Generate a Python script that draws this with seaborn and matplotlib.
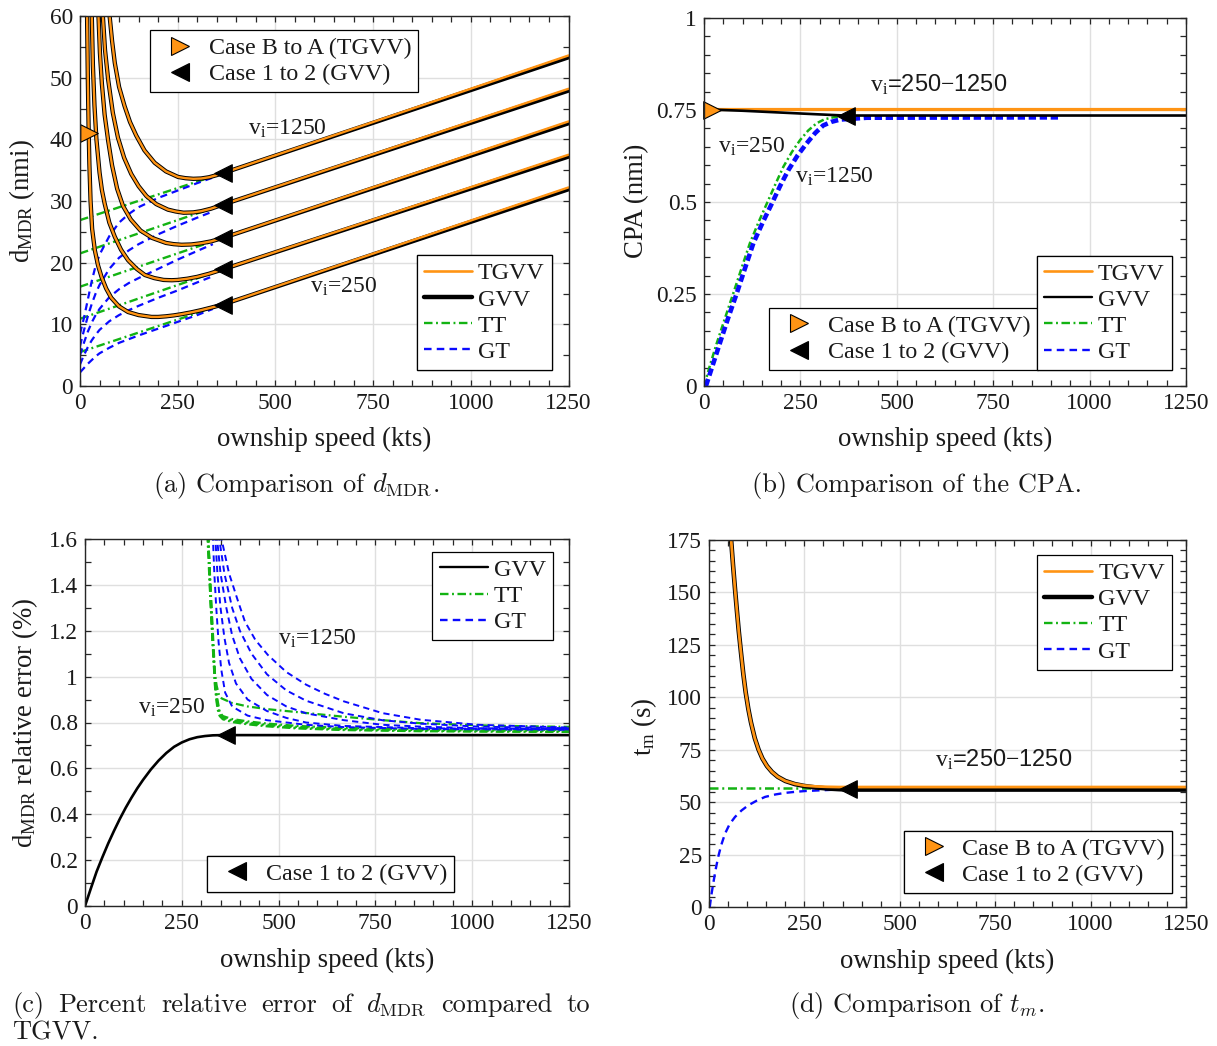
import matplotlib
matplotlib.use("Agg")
import matplotlib.pyplot as plt
import seaborn as sns
from matplotlib.lines import Line2D
from matplotlib.ticker import FixedLocator, MultipleLocator

# ---------------------------------------------------------------- data
x_ticks = [0, 250, 500, 750, 1000, 1250]
x_tick_labels = ["0", "250", "500", "750", "1000", "1250"]
a_y_ticks = [0, 10, 20, 30, 40, 50, 60]
a_y_tick_labels = ["0", "10", "20", "30", "40", "50", "60"]
b_y_ticks = [0, 0.25, 0.5, 0.75, 1.0]
b_y_tick_labels = ["0", "0.25", "0.5", "0.75", "1"]
c_y_ticks = [0, 0.2, 0.4, 0.6, 0.8, 1.0, 1.2, 1.4, 1.6]
c_y_tick_labels = ["0", "0.2", "0.4", "0.6", "0.8", "1", "1.2", "1.4", "1.6"]
d_y_ticks = [0, 25, 50, 75, 100, 125, 150, 175]
d_y_tick_labels = ["0", "25", "50", "75", "100", "125", "150", "175"]

# (a) d_MDR, one curve per intruder speed v_i = 250 ... 1250
a_x_250 = [18, 20, 22, 24, 27, 31, 38, 46, 55, 67, 80, 100, 123, 150, 183, 200, 220, 240, 260, 285, 310, 335, 365, 1250]
a_gvv_250 = [60.5, 50.0, 42.0, 36.0, 30.0, 25.5, 22.0, 19.6, 17.7, 15.8, 14.3, 12.9, 12.0, 11.5, 11.2, 11.2, 11.3, 11.45, 11.65, 11.95, 12.3, 12.7, 13.2, 31.9]
a_x_500 = [30, 33, 37, 42, 50, 56, 63, 75, 89, 105, 123, 145, 166, 190, 214, 235, 250, 275, 300, 330, 365, 1250]
a_gvv_500 = [60.5, 52.0, 45.5, 40.0, 34.6, 31.8, 29.6, 26.5, 24.2, 22.1, 20.4, 19.0, 18.0, 17.5, 17.2, 17.15, 17.2, 17.4, 17.7, 18.2, 18.9, 37.2]
a_x_750 = [47, 51, 56, 63, 72, 82, 95, 110, 130, 155, 185, 220, 240, 260, 285, 310, 335, 365, 1250]
a_gvv_750 = [60.5, 54.0, 49.0, 44.0, 39.8, 35.8, 32.0, 29.2, 27.0, 25.2, 24.0, 23.2, 23.0, 22.9, 22.95, 23.15, 23.45, 24.0, 42.6]
a_x_1000 = [58, 64, 72, 84, 97, 113, 131, 150, 170, 195, 225, 245, 265, 290, 310, 335, 365, 1250]
a_gvv_1000 = [60.5, 54.5, 49.7, 44.3, 40.3, 37.0, 34.4, 32.4, 30.8, 29.5, 28.6, 28.3, 28.1, 28.15, 28.35, 28.75, 29.4, 47.9]
a_x_1250 = [75, 82, 89, 100, 114, 128, 144, 165, 191, 220, 251, 270, 290, 310, 330, 350, 365, 1250]
a_gvv_1250 = [60.5, 56.0, 52.4, 48.5, 45.4, 42.8, 40.6, 38.2, 36.2, 34.8, 33.9, 33.7, 33.6, 33.65, 33.85, 34.2, 34.5, 53.3]
a_tgvv_end = [32.2, 37.5, 42.9, 48.2, 53.6]          # TGVV value at 1250 kts
a_tt_x = [0, 365]
a_tt_start = [5.5, 10.9, 16.1, 21.5, 26.9]
a_tt_end = [13.2, 18.9, 24.0, 29.4, 34.5]
a_gt_x = [0, 10, 20, 30, 40, 50, 75, 100, 125, 150, 200, 250, 300, 340]
a_gt_250 = [2.2, 2.9, 3.6, 4.2, 4.8, 5.3, 6.2, 7.0, 7.6, 8.2, 9.3, 10.4, 11.5, 12.5]
a_gt_500 = [3.5, 5.0, 6.3, 7.4, 8.3, 9.1, 10.5, 11.5, 12.3, 13.0, 14.3, 15.5, 16.8, 17.8]
a_gt_750 = [5.0, 7.0, 8.8, 10.3, 11.5, 12.5, 14.4, 15.7, 16.7, 17.5, 19.0, 20.5, 21.9, 23.0]
a_gt_1000 = [6.5, 9.0, 11.3, 13.3, 15.0, 16.4, 19.0, 20.8, 22.0, 23.0, 24.6, 26.0, 27.3, 28.3]
a_gt_1250 = [8.5, 11.0, 14.0, 17.0, 19.5, 21.3, 24.3, 26.5, 27.9, 29.0, 30.5, 31.7, 32.9, 33.8]
a_case1_x = [365, 365, 365, 365, 365]
a_case1_y = [13.2, 18.9, 24.0, 29.4, 34.5]
a_caseB_x = [22]
a_caseB_y = [41.0]

# (b) CPA
b_tgvv_x = [20, 1250]
b_tgvv_y = [0.752, 0.752]
b_gvv_x = [20, 100, 200, 300, 365, 1250]
b_gvv_y = [0.751, 0.748, 0.743, 0.738, 0.735, 0.735]
b_tt_x = [0, 16, 33, 55, 76, 98, 119, 141, 163, 185, 206, 228, 249, 270, 292, 313, 335, 380]
b_tt_y = [0.0, 0.058, 0.116, 0.186, 0.252, 0.322, 0.388, 0.444, 0.496, 0.548, 0.596, 0.636, 0.668, 0.694, 0.714, 0.725, 0.730, 0.733]
b_gt_x = [5, 23, 41, 63, 85, 107, 128, 152, 176, 198, 219, 243, 266, 288, 309, 331, 353, 422, 920]
b_gt_y = [0.0, 0.058, 0.116, 0.186, 0.252, 0.322, 0.388, 0.444, 0.496, 0.545, 0.587, 0.627, 0.659, 0.687, 0.708, 0.718, 0.724, 0.729, 0.730]
b_case1_x = [368]
b_case1_y = [0.735]
b_caseB_x = [20]
b_caseB_y = [0.751]

# (c) relative error of d_MDR (%)
c_gvv_x = [0, 15, 30, 45, 60, 75, 90, 105, 120, 135, 150, 170, 190, 210, 230, 250, 270, 290, 310, 330, 353, 1250]
c_gvv_y = [0.0, 0.076, 0.150, 0.213, 0.273, 0.328, 0.380, 0.428, 0.472, 0.513, 0.550, 0.595, 0.634, 0.667, 0.694, 0.713, 0.727, 0.736, 0.741, 0.744, 0.745, 0.745]
c_tt_x_1 = [316, 322, 328, 334, 340, 346, 353, 380, 420, 472, 550, 669, 770, 867, 1050, 1250]
c_tt_y_1 = [1.62, 1.40, 1.20, 1.03, 0.96, 0.92, 0.905, 0.885, 0.87, 0.858, 0.845, 0.825, 0.81, 0.797, 0.786, 0.781]
c_tt_x_2 = [318, 324, 330, 336, 342, 348, 356, 380, 420, 472, 550, 669, 867, 1050, 1250]
c_tt_y_2 = [1.62, 1.40, 1.20, 1.00, 0.90, 0.845, 0.828, 0.815, 0.805, 0.795, 0.785, 0.776, 0.771, 0.769, 0.768]
c_tt_y_3 = [1.62, 1.38, 1.17, 0.98, 0.88, 0.838, 0.822, 0.810, 0.800, 0.790, 0.781, 0.772, 0.767, 0.765, 0.764]
c_tt_y_4 = [1.62, 1.36, 1.15, 0.96, 0.87, 0.832, 0.818, 0.806, 0.796, 0.786, 0.777, 0.769, 0.764, 0.762, 0.761]
c_tt_y_5 = [1.62, 1.34, 1.13, 0.95, 0.86, 0.828, 0.814, 0.802, 0.792, 0.783, 0.774, 0.767, 0.762, 0.760, 0.759]
c_gt_x_250 = [330, 334, 339, 345, 352, 362, 380, 420, 470, 571, 669, 868, 1250]
c_gt_y_250 = [1.62, 1.45, 1.30, 1.15, 1.03, 0.93, 0.87, 0.83, 0.81, 0.79, 0.78, 0.772, 0.768]
c_gt_x_500 = [336, 342, 350, 360, 372, 390, 420, 470, 520, 571, 669, 868, 1250]
c_gt_y_500 = [1.62, 1.45, 1.30, 1.17, 1.06, 0.97, 0.90, 0.85, 0.82, 0.80, 0.785, 0.775, 0.770]
c_gt_x_750 = [340, 350, 365, 380, 400, 430, 470, 520, 571, 669, 768, 867, 1015, 1250]
c_gt_y_750 = [1.62, 1.45, 1.30, 1.18, 1.08, 0.99, 0.92, 0.87, 0.84, 0.81, 0.79, 0.782, 0.775, 0.772]
c_gt_x_1000 = [345, 360, 380, 400, 430, 470, 520, 571, 669, 768, 867, 1015, 1250]
c_gt_y_1000 = [1.62, 1.45, 1.30, 1.20, 1.10, 1.01, 0.94, 0.895, 0.84, 0.81, 0.795, 0.782, 0.775]
c_gt_x_1250 = [350, 372, 395, 413, 440, 472, 520, 571, 620, 669, 768, 867, 1015, 1250]
c_gt_y_1250 = [1.62, 1.45, 1.33, 1.24, 1.16, 1.095, 1.02, 0.965, 0.925, 0.892, 0.841, 0.812, 0.790, 0.778]
c_case1_x = [365]
c_case1_y = [0.745]

# (d) t_m (s)
d_x = [56, 58, 63, 68, 73, 78, 84, 90, 96, 103, 110, 120, 130, 140, 152, 165, 180, 200, 225, 250, 280, 310, 340, 365, 1250]
d_tgvv_y = [180.0, 175.0, 163.0, 152.0, 141.5, 131.5, 121.0, 111.0, 102.5, 94.5, 88.0, 80.5, 75.0, 70.8, 67.2, 64.4, 62.1, 60.1, 58.7, 57.9, 57.5, 57.3, 57.2, 57.2, 57.2]
d_gvv_y = [180.0, 175.0, 163.0, 152.0, 141.5, 131.5, 121.0, 111.0, 102.5, 94.5, 88.0, 80.5, 75.0, 70.8, 67.2, 64.4, 62.1, 60.1, 58.6, 57.7, 57.0, 56.5, 56.2, 56.0, 56.0]
d_tt_x = [0, 340]
d_tt_y = [56.9, 56.9]
d_gt_x = [2, 6, 11, 17, 24, 32, 42, 54, 68, 85, 103, 125, 147, 175, 199, 225, 252, 300, 339, 1250]
d_gt_y = [0.0, 5.5, 11.1, 17.5, 23.8, 29.5, 35.0, 39.5, 42.9, 46.0, 48.5, 50.7, 52.5, 53.7, 54.4, 54.9, 55.3, 55.7, 56.0, 56.0]
d_case1_x = [365]
d_case1_y = [56.2]

# ---------------------------------------------------------------- style
sns.set_theme(style="ticks")
plt.rcParams.update({
    "font.family": ["Liberation Serif", "DejaVu Serif"],
    "mathtext.fontset": "custom",
    "mathtext.rm": "Liberation Serif",
    "mathtext.it": "Liberation Serif:italic",
    "mathtext.bf": "Liberation Serif:bold",
    "axes.edgecolor": "#262626",
    "axes.linewidth": 1.0,
    "xtick.color": "#262626",
    "ytick.color": "#262626",
    "xtick.labelcolor": "#1a1a1a",
    "ytick.labelcolor": "#1a1a1a",
    "axes.labelcolor": "#1a1a1a",
    "text.color": "#1a1a1a",
})

ORANGE = "#FF9414"
GREEN = "#13B313"
BLUE = "#0A0AFF"
BLACK = "#000000"

TICK_FS = 16.8
LABEL_FS = 19.3
LEG_FS = 17.3
ANN_FS = 17
CAP_FS = 19

fig = plt.figure(figsize=(12.17, 10.46), dpi=100)
W, H = 1217.0, 1046.0


def add_ax(x0, x1, y0, y1):
    return fig.add_axes([x0 / W, 1 - y1 / H, (x1 - x0) / W, (y1 - y0) / H])


ax_a = add_ax(80, 568.5, 16, 386)
ax_b = add_ax(704, 1186, 18, 386)
ax_c = add_ax(85, 569, 539, 906)
ax_d = add_ax(709, 1186, 540, 907)


def style(ax, ymax, yt, ytl, yminor, ylabel, ylab_x, ylab_y, xlab_y):
    ax.set_xlim(0, 1250)
    ax.set_ylim(0, ymax)
    ax.xaxis.set_major_locator(FixedLocator(x_ticks))
    ax.set_xticklabels(x_tick_labels)
    ax.yaxis.set_major_locator(FixedLocator(yt))
    ax.set_yticklabels(ytl)
    ax.xaxis.set_minor_locator(MultipleLocator(50))
    ax.yaxis.set_minor_locator(MultipleLocator(yminor))
    ax.tick_params(which="both", direction="in", top=True, right=True,
                   length=4.5, width=0.9, labelsize=TICK_FS, pad=5)
    ax.grid(True, which="major", color="#DFDFDF", linewidth=1.0)
    ax.set_axisbelow(True)
    for s in ax.spines.values():
        s.set_visible(True)
        s.set_zorder(8)
    ax.set_xlabel("ownship speed (kts)", fontsize=LABEL_FS)
    ax.set_ylabel(ylabel, fontsize=LABEL_FS)
    ax.yaxis.set_label_coords(ylab_x, ylab_y)
    ax.xaxis.set_label_coords(0.5, xlab_y)


def line(ax, x, y, color, lw, ls="-", z=2):
    sns.lineplot(x=x, y=y, ax=ax, color=color, linewidth=lw, linestyle=ls,
                 sort=False, estimator=None, errorbar=None, legend=False, zorder=z)


def tri(ax, x, y, marker, face, z=7):
    sns.scatterplot(x=x, y=y, ax=ax, marker=marker, s=160, color=face,
                    edgecolor="black", linewidth=0.8, legend=False, zorder=z,
                    clip_on=False)


def legend(ax, handles, labels, loc, anchor, hl=2.0):
    leg = ax.legend(handles, labels, loc=loc, bbox_to_anchor=anchor, frameon=True,
                    fancybox=False, edgecolor="black", framealpha=1, fontsize=LEG_FS,
                    borderpad=0.3, labelspacing=0.18, handlelength=hl,
                    handletextpad=0.25, borderaxespad=0)
    leg.get_frame().set_linewidth(0.9)
    leg.set_zorder(10)
    ax.add_artist(leg)
    return leg


DASHDOT = (0, (3.6, 1.5, 0.8, 1.5))
DASHED = (0, (3.2, 2.2))

h_tgvv = Line2D([], [], color=ORANGE, lw=1.9)
h_gvv_thick = Line2D([], [], color=BLACK, lw=3.2)
h_gvv_thin = Line2D([], [], color=BLACK, lw=1.7)
h_tt = Line2D([], [], color=GREEN, lw=1.7, ls=DASHDOT)
h_gt = Line2D([], [], color=BLUE, lw=1.7, ls=DASHED)
h_caseB = Line2D([], [], ls="none", marker=">", markersize=12.5,
                 markerfacecolor=ORANGE, markeredgecolor="black", markeredgewidth=0.8)
h_case1 = Line2D([], [], ls="none", marker="<", markersize=12.5,
                 markerfacecolor="black", markeredgecolor="black", markeredgewidth=0.8)
lbl_lines = ["TGVV", "GVV", "TT", "GT"]
lbl_cases = ["Case B to A (TGVV)", "Case 1 to 2 (GVV)"]

# ---------------------------------------------------------------- (a)
ax = ax_a
a_curves_x = [a_x_250, a_x_500, a_x_750, a_x_1000, a_x_1250]
a_curves_gvv = [a_gvv_250, a_gvv_500, a_gvv_750, a_gvv_1000, a_gvv_1250]
a_curves_gt = [a_gt_250, a_gt_500, a_gt_750, a_gt_1000, a_gt_1250]
for k in range(5):
    line(ax, a_tt_x, [a_tt_start[k], a_tt_end[k]], GREEN, 1.7, DASHDOT, 2)
    line(ax, a_gt_x, a_curves_gt[k], BLUE, 1.6, DASHED, 2.5)
for k in range(5):
    xs = a_curves_x[k]
    g = a_curves_gvv[k]
    t = g[:-1] + [a_tgvv_end[k]]
    line(ax, xs, g, BLACK, 3.1, "-", 3)
    line(ax, xs, t, ORANGE, 1.7, "-", 4)
tri(ax, a_case1_x, a_case1_y, "<", "black")
tri(ax, a_caseB_x, a_caseB_y, ">", ORANGE)
style(ax, 60, a_y_ticks, a_y_tick_labels, 5, r"d$_{\mathrm{MDR}}$ (nmi)", -0.088, 0.5, -0.11)
ax.text(430, 40.8, r"v$_{\mathrm{i}}$=1250", fontsize=ANN_FS, va="baseline", zorder=9)
ax.text(589, 15.1, r"v$_{\mathrm{i}}$=250", fontsize=ANN_FS, va="baseline", zorder=9)
legend(ax, [h_caseB, h_case1], lbl_cases, "upper left", (0.143, 0.962), hl=1.9)
legend(ax, [h_tgvv, h_gvv_thick, h_tt, h_gt], lbl_lines, "lower right", (0.966, 0.043))

# ---------------------------------------------------------------- (b)
ax = ax_b
line(ax, b_tt_x, b_tt_y, GREEN, 1.8, (0, (2.6, 1.2, 0.8, 1.2)), 2)
line(ax, b_gt_x, b_gt_y, BLUE, 3.3, (0, (1.6, 0.8)), 2.5)
line(ax, b_tgvv_x, b_tgvv_y, ORANGE, 2.3, "-", 3)
line(ax, b_gvv_x, b_gvv_y, BLACK, 1.9, "-", 4)
tri(ax, b_case1_x, b_case1_y, "<", "black")
tri(ax, b_caseB_x, b_caseB_y, ">", ORANGE)
style(ax, 1.0, b_y_ticks, b_y_tick_labels, 0.05, "CPA (nmi)", -0.114, 0.503, -0.11)
ax.text(430, 0.799, r"$\mathrm{v}_{\mathrm{i}}$=250$-$1250", fontsize=ANN_FS, va="baseline",
        family=["Liberation Sans", "DejaVu Sans"], zorder=9)
ax.text(36, 0.633, r"v$_{\mathrm{i}}$=250", fontsize=ANN_FS, va="baseline", zorder=9)
ax.text(236, 0.552, r"v$_{\mathrm{i}}$=1250", fontsize=ANN_FS, va="baseline", zorder=9)
legend(ax, [h_caseB, h_case1], lbl_cases, "lower right", (0.693, 0.043), hl=1.9)
legend(ax, [h_tgvv, h_gvv_thin, h_tt, h_gt], lbl_lines, "lower right", (0.971, 0.043))

# ---------------------------------------------------------------- (c)
ax = ax_c
line(ax, c_gvv_x, c_gvv_y, BLACK, 1.9, "-", 3)
for ys in [c_tt_y_2, c_tt_y_3, c_tt_y_4, c_tt_y_5]:
    line(ax, c_tt_x_2, ys, GREEN, 1.6, DASHDOT, 2)
line(ax, c_tt_x_1, c_tt_y_1, GREEN, 1.6, DASHDOT, 2)
for xs, ys in [(c_gt_x_250, c_gt_y_250), (c_gt_x_500, c_gt_y_500), (c_gt_x_750, c_gt_y_750),
               (c_gt_x_1000, c_gt_y_1000), (c_gt_x_1250, c_gt_y_1250)]:
    line(ax, xs, ys, BLUE, 1.4, DASHED, 2.5)
tri(ax, c_case1_x, c_case1_y, "<", "black")
style(ax, 1.6, c_y_ticks, c_y_tick_labels, 0.1, r"d$_{\mathrm{MDR}}$ relative error (%)",
      -0.092, 0.5, -0.113)
ax.text(498, 1.138, r"v$_{\mathrm{i}}$=1250", fontsize=ANN_FS, va="baseline", zorder=9)
ax.text(137, 0.837, r"v$_{\mathrm{i}}$=250", fontsize=ANN_FS, va="baseline", zorder=9)
legend(ax, [h_gvv_thin, h_tt, h_gt], ["GVV", "TT", "GT"], "upper right", (0.967, 0.965))
legend(ax, [h_case1], ["Case 1 to 2 (GVV)"], "lower left", (0.252, 0.038), hl=1.9)

# ---------------------------------------------------------------- (d)
ax = ax_d
line(ax, d_tt_x, d_tt_y, GREEN, 1.8, DASHDOT, 2)
line(ax, d_gt_x, d_gt_y, BLUE, 1.7, DASHED, 2.5)
line(ax, d_x, d_gvv_y, BLACK, 3.3, "-", 3)
line(ax, d_x, d_tgvv_y, ORANGE, 2.0, "-", 4)
tri(ax, d_case1_x, d_case1_y, "<", "black")
style(ax, 175, d_y_ticks, d_y_tick_labels, 5, r"t$_{\mathrm{m}}$ (s)", -0.105, 0.49, -0.113)
ax.text(592, 66.8, r"$\mathrm{v}_{\mathrm{i}}$=250$-$1250", fontsize=ANN_FS, va="baseline",
        family=["Liberation Sans", "DejaVu Sans"], zorder=9)
legend(ax, [h_tgvv, h_gvv_thick, h_tt, h_gt], lbl_lines, "upper right", (0.971, 0.959))
legend(ax, [h_caseB, h_case1], lbl_cases, "lower right", (0.971, 0.038), hl=1.9)

# ---------------------------------------------------------------- captions
cap_kw = dict(fontsize=CAP_FS, family="cmr10", math_fontfamily="cm", va="baseline")
fig.text(296 / W, 1 - 492 / H, r"(a) Comparison of $d_{\mathrm{MDR}}$.", ha="center", **cap_kw)
fig.text(917 / W, 1 - 492 / H, "(b) Comparison of the CPA.", ha="center", **cap_kw)
fig.text(917 / W, 1 - 1012 / H, r"(d) Comparison of $t_m$.", ha="center", **cap_kw)
fig.text(12 / W, 1 - 1040 / H, "TGVV.", ha="left", **cap_kw)

words = ["(c)", "Percent", "relative", "error", "of", r"$d_{\mathrm{MDR}}$", "compared", "to"]
renderer = fig.canvas.get_renderer()
wtexts = [fig.text(0, 1 - 1012 / H, w, ha="left", **cap_kw) for w in words]
widths = [t.get_window_extent(renderer).width for t in wtexts]
x_left, x_right = 12.0, 590.0
gap = (x_right - x_left - sum(widths)) / (len(words) - 1)
xpos = x_left
for t, wdt in zip(wtexts, widths):
    t.set_x(xpos / W)
    xpos += wdt + gap

fig.savefig("out.png", dpi=100)
